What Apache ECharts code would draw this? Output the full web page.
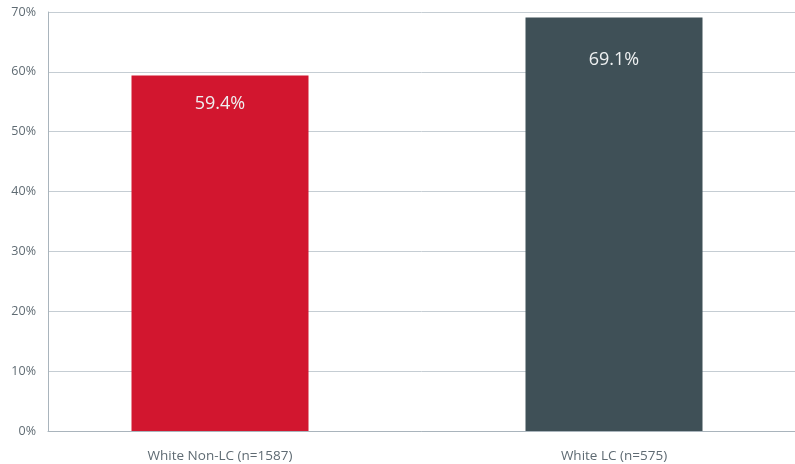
<!DOCTYPE html>
<html>
<head>
<meta charset="utf-8">
<script src="https://cdn.jsdelivr.net/npm/echarts@6/dist/echarts.min.js"></script>
<style>
  html, body { margin: 0; padding: 0; background: #fff; }
  #chart { width: 795px; height: 464px; }
</style>
</head>
<body>
<div id="chart"></div>
<script>
const categories = ['White Non-LC (n=1587)', 'White LC (n=575)']
const values = [59.4, 69.1]
const barColors = ['#d2162f', '#3f5057']
const labelDistances = [19, 33]
const yTicks = [0, 10, 20, 30, 40, 50, 60, 70]

const chart = echarts.init(document.getElementById('chart'))
const font = 'Open Sans'
const gridColor = '#c5cdd3'

const option = {
  animation: false,
  grid: [
    { left: 48, right: 0, top: 12, bottom: 33, outerBoundsMode: 'none' },
    // bars sit on their own band layout (slightly wider than the visible plot)
    { left: 23, right: -16, top: 12, bottom: 33, outerBoundsMode: 'none' }
  ],
  xAxis: [
    {
      gridIndex: 0,
      type: 'category',
      data: categories,
      axisLine: { show: true, lineStyle: { color: '#a9b4bc', width: 1 } },
      axisTick: { show: false },
      axisLabel: { show: false }
    },
    {
      gridIndex: 1,
      type: 'category',
      data: categories,
      axisLine: { show: false },
      axisTick: { show: false },
      axisLabel: { color: '#5f6b73', fontFamily: font, fontSize: 13.5, margin: 18 }
    }
  ],
  yAxis: [
    {
      gridIndex: 0,
      type: 'value',
      min: yTicks[0],
      max: yTicks[yTicks.length - 1],
      interval: 10,
      axisLine: { show: true, lineStyle: { color: '#a9b4bc', width: 1 } },
      axisTick: { show: false },
      splitLine: { lineStyle: { color: gridColor, width: 1 } },
      axisLabel: {
        color: '#5f6b73',
        fontFamily: font,
        fontSize: 12.5,
        margin: 12,
        formatter: v => v + '%'
      }
    },
    {
      gridIndex: 1,
      type: 'value',
      min: yTicks[0],
      max: yTicks[yTicks.length - 1],
      show: false,
      splitLine: { show: false }
    }
  ],
  series: [
    {
      type: 'bar',
      xAxisIndex: 1,
      yAxisIndex: 1,
      barWidth: 177,
      data: values.map((v, i) => ({
        value: v,
        itemStyle: { color: barColors[i] },
        label: { distance: labelDistances[i] }
      })),
      label: {
        show: true,
        position: 'insideTop',
        color: '#eef0f1',
        fontFamily: font,
        fontSize: 18,
        formatter: p => p.value.toFixed(1) + '%'
      }
    }
  ]
}

chart.setOption(option)
</script>
</body>
</html>
